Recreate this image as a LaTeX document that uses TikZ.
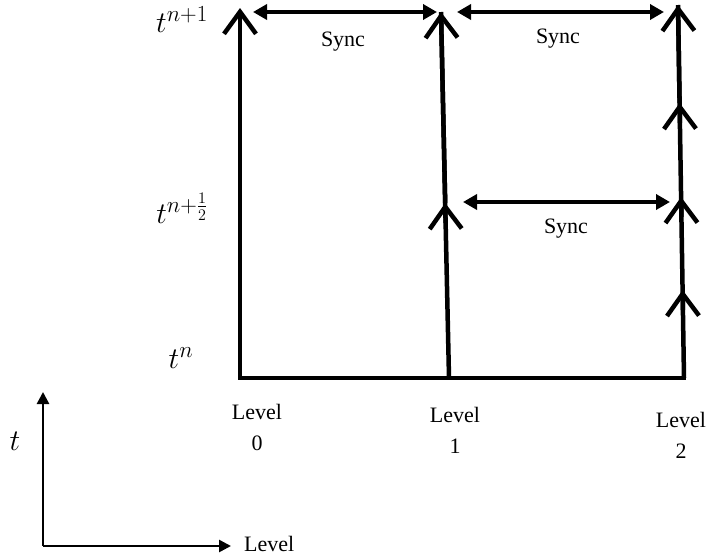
\documentclass[tikz,border=0pt]{standalone}
\usepackage{fix-cm}
\usepackage{fontspec}
\setmainfont{Liberation Serif}
\usetikzlibrary{arrows.meta}
\newcommand\supx[1]{\mbox{\fontsize{23}{23}\selectfont$#1$}}
\begin{document}
\begin{tikzpicture}[x=1pt,y=-1pt,
  lvl/.style={line width=4.5pt},
  chev/.style={lvl,-{Straight Barb[length=22pt,width=32pt,line width=4.5pt]}},
  sync/.style={line width=4pt,{Triangle[length=14pt,width=15pt]}-{Triangle[length=14pt,width=15pt]}},
  axis/.style={line width=2.6pt,-{Triangle[length=12pt,width=12pt]}},
  lbl/.style={font=\fontsize{22}{31}\selectfont, align=center, inner sep=0pt},
  tl/.style={font=\fontsize{30}{34}\selectfont, inner sep=0pt}]
\useasboundingbox (0,0) rectangle (710,557);
% coordinates
\coordinate (a0) at (240,378);
\coordinate (a1) at (240,8);
\coordinate (b0) at (449,378);
\coordinate (bm) at (445.2,203);
\coordinate (bmx) at (445.6,223);
\coordinate (b1) at (441,12);
\coordinate (c0) at (684,378);
\coordinate (c1) at (682.6,290);
\coordinate (c1x) at (682.9,310);
\coordinate (c2) at (681.1,197);
\coordinate (c2x) at (681.4,217);
\coordinate (c3) at (679.6,103);
\coordinate (c3x) at (679.9,123);
\coordinate (c4) at (678,5);
% base line
\draw[lvl, line cap=rect] (a0) -- (c0);
% level 0
\draw[chev] (a0) -- (a1);
% level 1
\draw[lvl] (b0) -- (b1);
\draw[chev] (bmx) -- (bm);
\draw[chev] (bm) -- (b1);
% level 2
\draw[lvl] (c0) -- (c4);
\draw[chev] (c1x) -- (c1);
\draw[chev] (c2x) -- (c2);
\draw[chev] (c3x) -- (c3);
\draw[chev] (c3) -- (c4);
% sync arrows
\coordinate (s1l) at (253,12);
\coordinate (s1r) at (437,12);
\coordinate (s2l) at (457,12);
\coordinate (s2r) at (664,12);
\coordinate (s3l) at (463,202);
\coordinate (s3r) at (670,202);
\draw[sync] (s1l) -- (s1r);
\draw[sync] (s2l) -- (s2r);
\draw[sync] (s3l) -- (s3r);
\node[lbl] (sy1) at (343,42) {Sync};
\node[lbl] (sy2) at (558,39) {Sync};
\node[lbl] (sy3) at (566,229) {Sync};
% time labels
\node[tl] (tn1) at (182,20) {$t^{\supx{n{+}1}}$};
\node[tl] (tnh) at (182,208) {$t^{\supx{n{+}\frac{1}{2}}}$};
\node[tl] (tn) at (181,358) {$t^{\supx{n}}$};
% level labels
\node[lbl] (L0) at (257,427) {Level\\0};
\node[lbl] (L1) at (455,430) {Level\\1};
\node[lbl] (L2) at (681,435) {Level\\2};
% axes
\coordinate (o) at (43,546);
\coordinate (ty) at (43,392);
\coordinate (tx) at (231,546);
\draw[axis] (o) -- (ty);
\draw[axis] (o) -- (tx);
\node[tl] (tlab) at (15,441) {$t$};
\node[lbl, anchor=west] (xlab) at (244,544) {Level};
\end{tikzpicture}
\end{document}
